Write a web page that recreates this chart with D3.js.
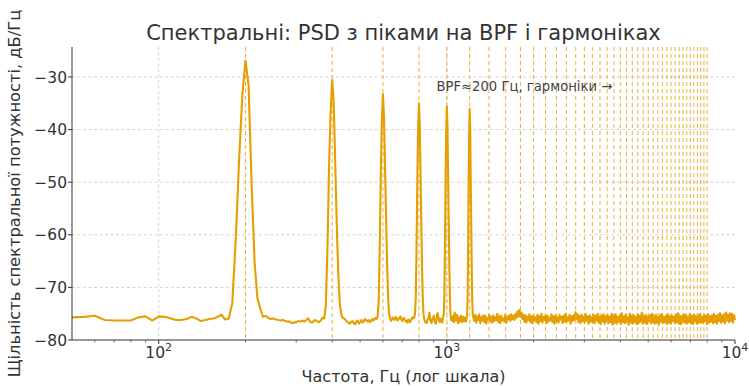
<!DOCTYPE html>
<html>
<head>
<meta charset="utf-8">
<script src="https://cdn.jsdelivr.net/npm/d3@7"></script>
<style>
  body { margin: 0; background: #fff; }
  svg { display: block; }
  text { font-family: "DejaVu Sans", sans-serif; }
</style>
</head>
<body>
<svg id="chart" width="749" height="386"></svg>
<script>
// ---- Labels ----
const titleText = "Спектральні: PSD з піками на BPF і гармоніках";
const xLabel = "Частота, Гц (лог шкала)";
const yLabel = "Щільність спектральної потужності, дБ/Гц";
const noteText = "BPF≈200 Гц, гармоніки →";

// ---- Axes ----
const xDomain = [50, 10000];
const yDomain = [-80, -24.3];
const yTicks = [-80, -70, -60, -50, -40, -30];
const xMajorTicks = [100, 1000, 10000];
const xMajorExp = ["2", "3", "4"];
const xMinorTicks = [60, 70, 80, 90, 200, 300, 400, 500, 600, 700, 800, 900,
                     2000, 3000, 4000, 5000, 6000, 7000, 8000, 9000];

// ---- Blade-pass frequency and its harmonics (Hz) ----
const bpf = 200;
const harmonics = [200, 400, 600, 800, 1000, 1200, 1400, 1600, 1800, 2000,
  2200, 2400, 2600, 2800, 3000, 3200, 3400, 3600, 3800, 4000,
  4200, 4400, 4600, 4800, 5000, 5200, 5400, 5600, 5800, 6000,
  6200, 6400, 6600, 6800, 7000, 7200, 7400, 7600, 7800, 8000];

// ---- PSD below 1.235 kHz: [frequency Hz, dB/Hz] ----
const psdLow = [
  [50,-75.7],[55,-75.6],[60,-75.4],[65,-76.2],[70,-76.3],[75,-76.3],[80,-76.3],[85,-75.7],
  [90,-75.5],[95,-76.3],[100,-75.5],[105,-75.6],[110,-75.9],[115,-76.2],[120,-76.2],[125,-76.0],
  [130,-75.6],[135,-75.9],[140,-76.4],[145,-76.2],[150,-76.0],[155,-75.9],[160,-75.6],[165,-75.2],
  [170,-76.1],[175,-75.9],
  [180,-73.0],[185,-61.0],[190,-46.0],[195,-33.5],[200,-26.9],[205,-31.5],[210,-50.0],[215,-65.0],
  [220,-72.0],[225,-74.0],[230,-75.6],
  [235,-75.4],[240,-75.8],[245,-76.0],[250,-75.9],[255,-76.1],[260,-76.2],[265,-76.3],[270,-76.2],
  [275,-76.4],[280,-76.5],[285,-76.5],[290,-76.8],[295,-76.7],[300,-76.6],[305,-76.4],[310,-76.5],
  [315,-76.3],[320,-76.5],[325,-76.2],[330,-75.9],[335,-76.5],[340,-76.7],[345,-76.4],[350,-76.2],
  [355,-76.5],[360,-76.6],[365,-76.3],[370,-75.8],[375,-75.9],
  [380,-73.5],[385,-63.0],[390,-47.0],[395,-36.5],[400,-30.6],[405,-35.0],[410,-47.0],[415,-58.5],
  [420,-67.5],[425,-73.0],[430,-75.2],[435,-75.8],
  [440,-75.9],[445,-76.2],[450,-76.5],[455,-76.7],[460,-76.9],[465,-76.6],[470,-76.4],[475,-76.8],
  [480,-77.0],[485,-76.5],[490,-76.3],[495,-76.9],[500,-76.6],[505,-76.2],[510,-76.7],[515,-76.4],
  [520,-76.0],[525,-76.3],[530,-76.5],[535,-76.2],[540,-76.6],[545,-76.4],[550,-76.0],[555,-76.3],
  [560,-76.1],[565,-75.8],[570,-76.0],
  [575,-75.6],[580,-72.5],[585,-62.0],[590,-48.0],[595,-38.0],[600,-33.3],[605,-37.5],[610,-47.0],
  [615,-56.0],[620,-65.0],[625,-71.5],[630,-75.0],
  [635,-75.8],[640,-76.4],[645,-76.1],[650,-75.7],[655,-76.0],[660,-76.2],[665,-75.6],[670,-75.9],
  [675,-76.3],[680,-76.0],[685,-75.8],[690,-75.5],[695,-76.1],[700,-76.4],[705,-76.0],[710,-75.8],
  [715,-76.2],[720,-76.5],[725,-76.3],[730,-76.7],[735,-76.1],[740,-76.4],[745,-76.6],[750,-76.2],
  [755,-76.0],[760,-75.7],[765,-75.9],[770,-75.8],
  [775,-75.0],[780,-72.0],[785,-62.0],[790,-49.0],[795,-39.5],[800,-35.0],[805,-39.0],[810,-48.0],
  [815,-57.0],[820,-66.0],[825,-72.0],[830,-75.2],
  [835,-76.0],[840,-76.6],[845,-76.5],[850,-76.8],[855,-76.3],[860,-76.0],[865,-75.6],[870,-74.8],
  [875,-76.2],[880,-76.5],[885,-76.8],[890,-76.0],[895,-75.9],[900,-75.4],[905,-76.2],[910,-76.6],
  [915,-76.9],[920,-76.2],[925,-75.1],[930,-74.9],[935,-75.8],[940,-76.4],[945,-76.6],[950,-75.9],
  [955,-76.1],[960,-76.4],[965,-76.7],[970,-75.8],
  [975,-75.2],[980,-72.0],[985,-62.0],[990,-49.0],[995,-40.0],[1000,-35.6],[1005,-39.5],[1010,-48.5],
  [1015,-57.5],[1020,-66.0],[1025,-72.0],[1030,-75.2],
  [1035,-76.2],[1040,-75.6],[1045,-76.4],[1050,-76.0],[1055,-75.3],[1060,-76.6],[1065,-74.8],[1070,-75.9],
  [1075,-76.3],[1080,-75.5],[1085,-75.2],[1090,-76.4],[1095,-76.8],[1100,-76.1],[1105,-75.7],[1110,-76.5],
  [1115,-76.2],[1120,-75.4],[1125,-75.9],[1130,-76.6],[1135,-76.3],[1140,-75.6],[1145,-76.0],[1150,-76.4],
  [1155,-75.8],[1160,-76.1],[1165,-76.5],[1170,-75.9],
  [1175,-75.3],[1180,-72.5],[1185,-63.0],[1190,-50.0],[1195,-40.5],[1200,-36.1],[1205,-40.0],[1210,-49.0],
  [1215,-58.0],[1220,-66.5],[1225,-72.5],[1230,-75.3]
];

// ---- Broadband noise floor from 1.235 kHz to 10 kHz (dB/Hz),
//      bins evenly spaced in log-frequency ----
const hfStart = 1235, hfEnd = 10000;
const psdHigh = [
  -75.6,-76.4,-75.2,-76.7,-75.5,-76.2,-75.1,-76.8,-75.7,-76.3,-75.3,-76.6,-75.4,-76.9,-75.8,-76.1,-75.2,-76.5,-75.6,-76.7,
  -75.3,-76.4,-75.7,-76.2,-75.0,-76.6,-75.5,-76.8,-75.4,-76.3,-75.9,-76.5,-75.2,-76.7,-75.6,-76.1,-75.3,-76.4,-75.1,-76.0,
  -75.4,-76.2,-75.0,-75.8,-74.6,-75.5,-74.3,-75.6,-74.8,-76.0,-75.2,-76.5,-75.3,-76.7,-75.6,-76.2,-75.1,-76.6,-75.5,-76.8,
  -75.4,-76.3,-75.7,-76.6,-75.2,-76.9,-75.5,-76.4,-75.0,-76.7,-75.6,-76.2,-75.3,-76.8,-75.4,-76.5,-75.8,-76.3,-75.1,-76.6,
  -75.5,-76.9,-75.3,-76.4,-75.7,-76.7,-75.2,-76.1,-75.6,-76.8,-75.4,-76.5,-75.0,-76.6,-75.7,-76.3,-75.2,-76.9,-75.5,-76.4,
  -75.3,-76.2,-74.7,-76.0,-75.1,-76.6,-75.4,-76.8,-75.2,-76.4,-75.6,-76.7,-75.0,-76.3,-75.5,-76.9,-75.3,-76.5,-75.7,-76.6,
  -75.2,-76.8,-75.4,-76.3,-75.0,-76.7,-75.6,-77.0,-75.3,-76.5,-75.1,-76.9,-75.5,-76.4,-75.2,-76.8,-75.6,-76.6,-75.0,-77.1,
  -75.4,-76.7,-75.1,-76.9,-75.6,-76.5,-75.3,-77.0,-74.9,-76.6,-75.5,-76.8,-75.2,-76.4,-75.7,-77.1,-75.0,-76.7,-75.4,-76.9,
  -75.3,-76.6,-75.6,-77.0,-75.1,-76.8,-75.4,-76.5,-74.8,-76.9,-75.5,-76.7,-75.2,-77.0,-75.6,-76.4,-75.3,-76.8,-75.0,-76.6,
  -75.5,-76.9,-75.2,-76.7,-75.7,-77.1,-75.3,-76.5,-75.0,-76.8,-75.6,-76.6,-75.4,-77.0,-75.1,-76.7,-75.5,-76.9,-75.3,-76.4,
  -75.6,-76.8,-75.2,-76.6,-74.9,-76.9,-75.4,-77.0,-75.5,-76.5,-75.1,-76.7,-75.3,-76.9,-75.7,-76.6,-75.0,-76.8,-75.4,-77.0,
  -75.2,-76.5,-75.5,-76.9,-75.3,-76.7,-75.0,-76.6,-75.6,-76.8,-75.2,-76.4,-75.4,-77.0,-75.1,-76.7,-75.5,-76.5,-75.3,-76.8,
  -75.0,-76.6,-75.4,-76.9,-75.2,-76.4,-74.9,-76.7,-75.3,-76.5,-75.1,-76.8,-74.8,-76.3,-75.2,-76.6,-74.9,-76.4,-75.0,-76.7,-75.3,-76.2
];

// ---- Style ----
const lineColor = "#E69F00";
const gridColor = "#c8c8c8";
const axisColor = "#333";
const textColor = "#333";

const svg = d3.select("#chart");
const plot = { left: 72, right: 735, top: 47, bottom: 340 };

const x = d3.scaleLog().domain(xDomain).range([plot.left, plot.right]);
const y = d3.scaleLinear().domain(yDomain).range([plot.bottom, plot.top]);

// Full spectrum: tabulated low band followed by the log-spaced noise bins
const hfLogFreq = d3.scaleLinear().domain([0, psdHigh.length - 1])
  .range([Math.log10(hfStart), Math.log10(hfEnd)]);
const spectrum = psdLow.concat(psdHigh.map((v, i) => [Math.pow(10, hfLogFreq(i)), v]));

// Grid
const grid = svg.append("g");
grid.selectAll("line.gy").data(yTicks.filter(t => t > yDomain[0]))
  .join("line")
  .attr("x1", plot.left).attr("x2", plot.right)
  .attr("y1", d => y(d)).attr("y2", d => y(d))
  .attr("stroke", gridColor).attr("stroke-width", 0.8)
  .attr("stroke-dasharray", "3,2.5");
grid.selectAll("line.gx").data(xMajorTicks.filter(t => t < xDomain[1]))
  .join("line")
  .attr("x1", d => x(d)).attr("x2", d => x(d))
  .attr("y1", plot.top).attr("y2", plot.bottom)
  .attr("stroke", gridColor).attr("stroke-width", 0.8)
  .attr("stroke-dasharray", "3,2.5");

// PSD trace
const line = d3.line().x(d => x(d[0])).y(d => y(d[1]));
svg.append("path")
  .datum(spectrum)
  .attr("d", line)
  .attr("fill", "none")
  .attr("stroke", lineColor)
  .attr("stroke-width", 2.1)
  .attr("stroke-linejoin", "round");

// Harmonic markers
svg.append("g").selectAll("line").data(harmonics)
  .join("line")
  .attr("x1", d => x(d)).attr("x2", d => x(d))
  .attr("y1", plot.top).attr("y2", plot.bottom)
  .attr("stroke", lineColor).attr("stroke-width", 1)
  .attr("stroke-opacity", 0.8)
  .attr("stroke-dasharray", "4,3");

// Axes
const axisG = svg.append("g");
axisG.append("line")
  .attr("x1", plot.left).attr("x2", plot.left)
  .attr("y1", plot.top).attr("y2", plot.bottom)
  .attr("stroke", axisColor).attr("stroke-width", 1);
axisG.append("line")
  .attr("x1", plot.left).attr("x2", plot.right)
  .attr("y1", plot.bottom).attr("y2", plot.bottom)
  .attr("stroke", axisColor).attr("stroke-width", 1);

// y ticks
axisG.selectAll("line.yt").data(yTicks).join("line")
  .attr("x1", plot.left - 4).attr("x2", plot.left)
  .attr("y1", d => y(d)).attr("y2", d => y(d))
  .attr("stroke", axisColor);
axisG.selectAll("text.yl").data(yTicks).join("text")
  .attr("x", plot.left - 5).attr("y", d => y(d))
  .attr("dy", "0.36em")
  .attr("text-anchor", "end")
  .attr("font-size", 15.5)
  .attr("fill", textColor)
  .text(d => d3.format("d")(d));

// x ticks
axisG.selectAll("line.xt").data(xMajorTicks).join("line")
  .attr("x1", d => x(d)).attr("x2", d => x(d))
  .attr("y1", plot.bottom).attr("y2", plot.bottom + 4)
  .attr("stroke", axisColor);
axisG.selectAll("line.xm").data(xMinorTicks).join("line")
  .attr("x1", d => x(d)).attr("x2", d => x(d))
  .attr("y1", plot.bottom).attr("y2", plot.bottom + 2.5)
  .attr("stroke", axisColor).attr("stroke-width", 0.7);
const xl = axisG.selectAll("text.xl").data(xMajorTicks).join("text")
  .attr("x", d => x(d)).attr("y", plot.bottom + 18)
  .attr("text-anchor", "middle")
  .attr("font-size", 15.5)
  .attr("fill", textColor);
xl.append("tspan").text("10");
xl.append("tspan").attr("dy", -7).attr("font-size", 11).text((d, i) => xMajorExp[i]);

// Axis titles
svg.append("text")
  .attr("x", (plot.left + plot.right) / 2).attr("y", 382)
  .attr("text-anchor", "middle").attr("font-size", 16).attr("fill", textColor)
  .text(xLabel);
svg.append("text")
  .attr("transform", `translate(20,${(plot.top + plot.bottom) / 2}) rotate(-90)`)
  .attr("text-anchor", "middle").attr("font-size", 16.3).attr("fill", textColor)
  .text(yLabel);

// Title
svg.append("text")
  .attr("x", (plot.left + plot.right) / 2).attr("y", 40)
  .attr("text-anchor", "middle").attr("font-size", 21).attr("fill", textColor)
  .text(titleText);

// Note
svg.append("text")
  .attr("x", x(920)).attr("y", y(-32.7))
  .attr("font-size", 13.2).attr("fill", "#444")
  .text(noteText);
</script>
</body>
</html>
